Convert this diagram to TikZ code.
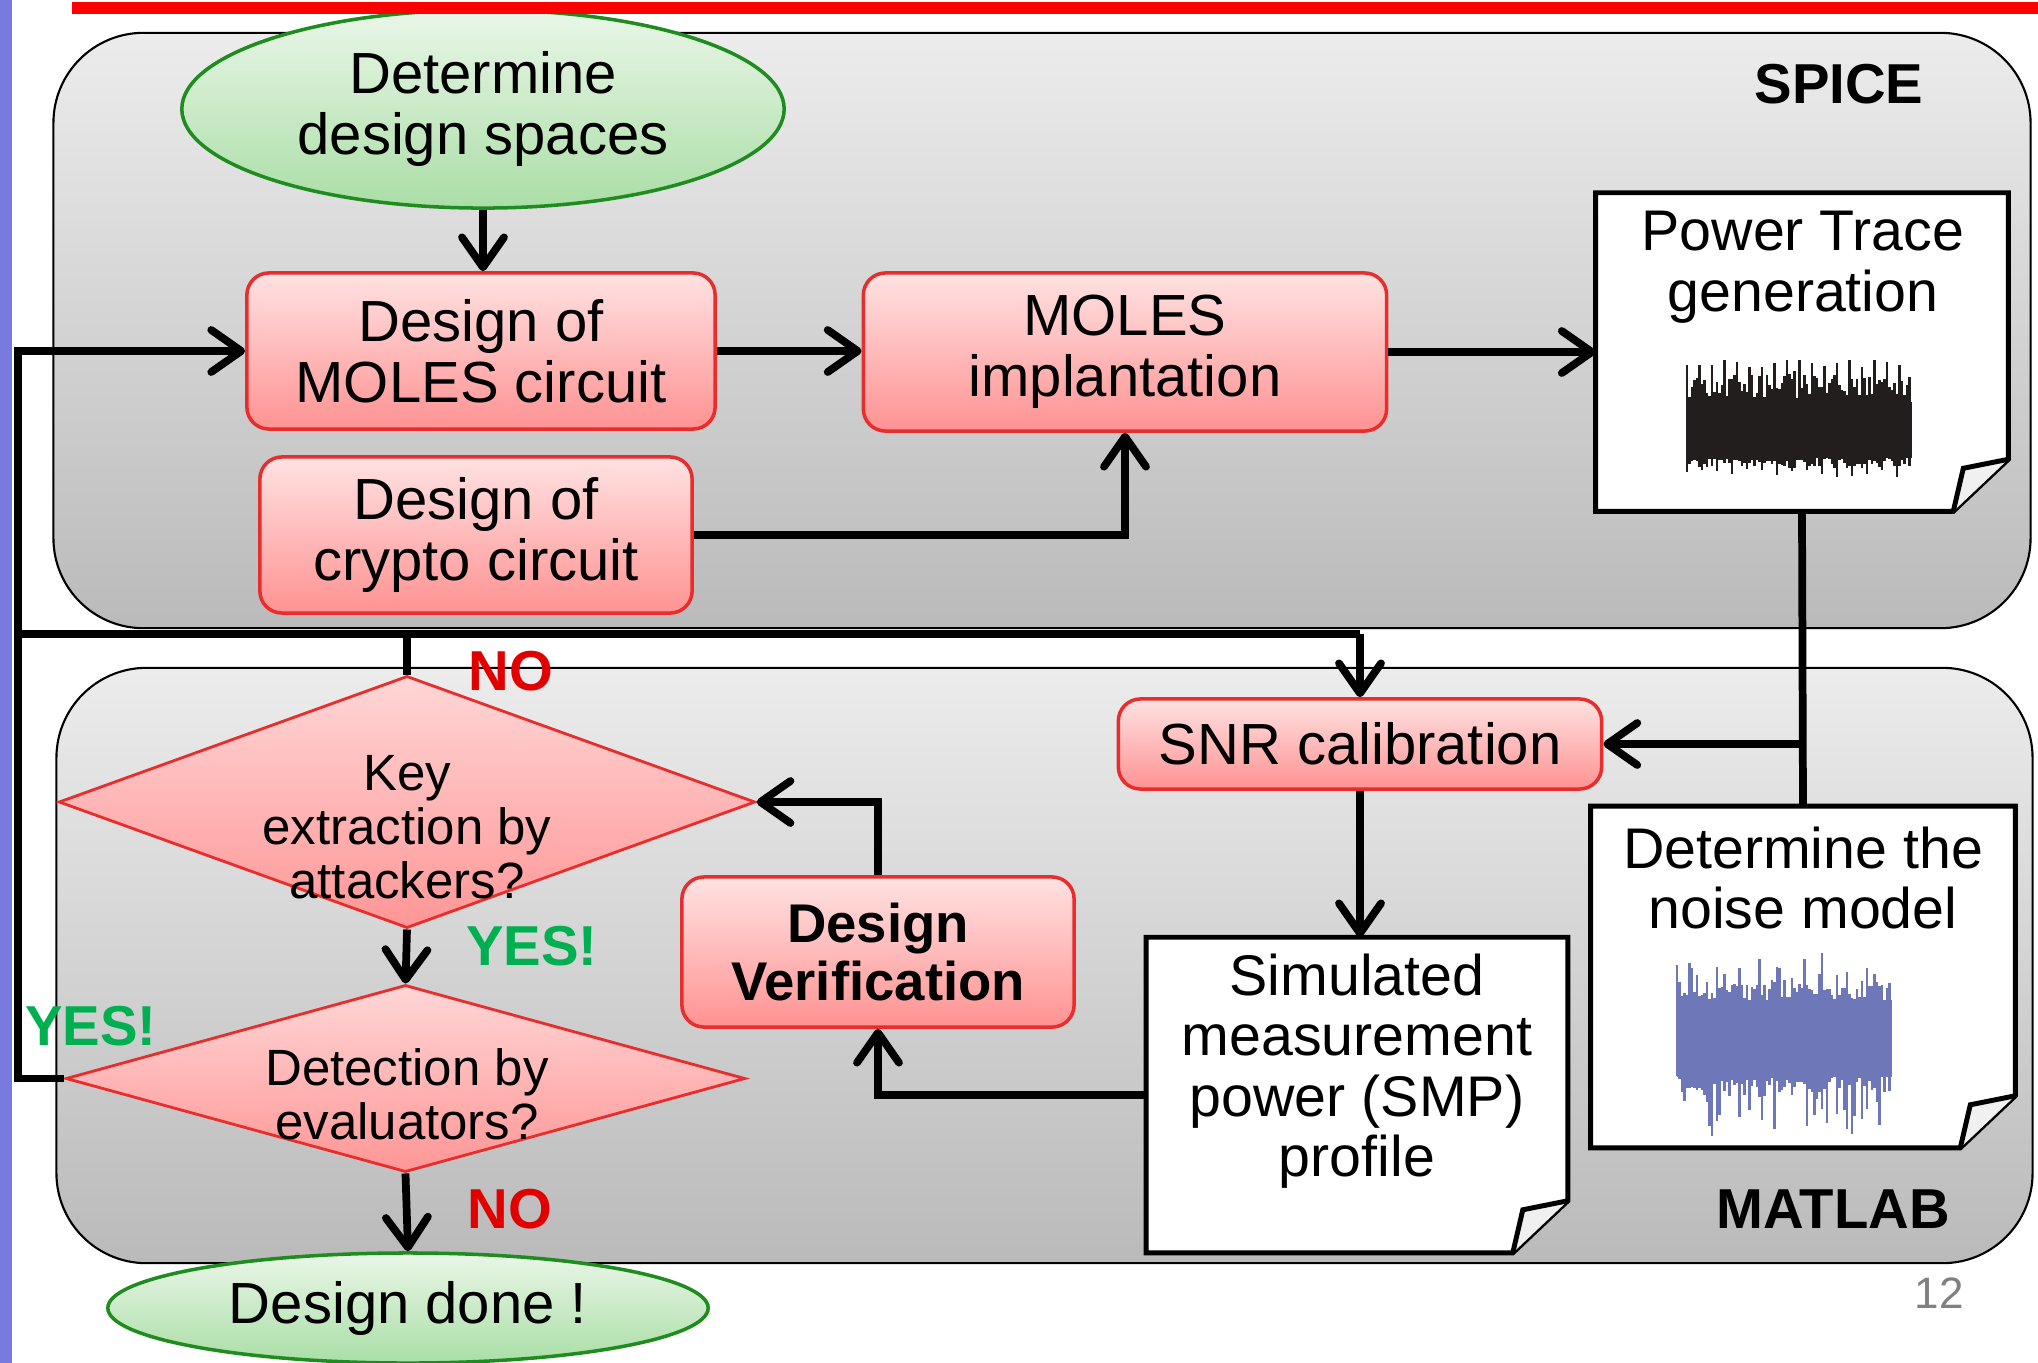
\documentclass[tikz,border=0pt]{standalone}
\usepackage{fontspec}
\setmainfont{Liberation Sans}
\usetikzlibrary{shapes.geometric,arrows.meta,calc}

\definecolor{boxtop}{RGB}{255,226,226}
\definecolor{boxbot}{RGB}{255,146,146}
\definecolor{boxline}{RGB}{232,45,45}
\definecolor{dtop}{RGB}{255,214,214}
\definecolor{dbot}{RGB}{255,150,150}
\definecolor{etop}{RGB}{234,246,232}
\definecolor{ebot}{RGB}{170,222,166}
\definecolor{eline}{RGB}{30,140,30}
\definecolor{ptop}{RGB}{236,236,236}
\definecolor{pbot}{RGB}{186,186,186}
\definecolor{yesgreen}{RGB}{0,176,80}
\definecolor{nored}{RGB}{225,0,0}
\definecolor{sidebar}{RGB}{122,122,222}
\definecolor{noiseblue}{RGB}{110,120,185}
\definecolor{tracedark}{RGB}{35,30,30}

\newcommand\docoutline[1]{%
  \draw[docline, fill=white] (#1.north west) -- (#1.north east)
     -- ([yshift=0.52cm]#1.south east) -- ([xshift=-0.55cm]#1.south east)
     -- (#1.south west) -- cycle;
  \draw[docline, fill=gray!12] ([yshift=0.52cm]#1.south east)
     -- ([xshift=-0.45cm,yshift=0.43cm]#1.south east)
     -- ([xshift=-0.55cm]#1.south east);
}

\begin{document}
\begin{tikzpicture}[x=0.01cm,y=-0.01cm,
  flow/.style={line width=2.2pt, draw=black},
  arr/.style={flow, -{Straight Barb[length=0.3cm,width=0.42cm,round]}},
  panel/.style={rectangle, rounded corners=0.9cm, draw=black, line width=0.6pt,
    top color=ptop, bottom color=pbot},
  pinkbox/.style={rectangle, rounded corners=0.22cm, draw=boxline, line width=1pt,
    top color=boxtop, bottom color=boxbot, align=center, inner sep=0pt,
    font=\fontsize{16.5}{17.4}\selectfont},
  decision/.style={diamond, draw=boxline, line width=0.8pt, top color=dtop,
    bottom color=dbot, inner sep=0pt},
  dtext/.style={align=center, font=\fontsize{14.5}{15.4}\selectfont},
  terminal/.style={ellipse, draw=eline, line width=1pt, top color=etop,
    bottom color=ebot, align=center, inner sep=0pt,
    font=\fontsize{16.5}{17.4}\selectfont},
  docnode/.style={rectangle, draw=none, inner sep=0pt},
  docline/.style={line width=1.4pt, draw=black, line join=miter},
  doctext/.style={align=center, font=\fontsize{16.3}{17.2}\selectfont},
  tag/.style={font=\fontsize{16}{18}\selectfont\bfseries},
  wavepw/.style={line width=0.028cm, draw=tracedark},
  wavenm/.style={line width=0.028cm, draw=noiseblue}
]
\useasboundingbox (0,0) rectangle (2038,1363);
\fill[white] (0,0) rectangle (2038,1363);
\fill[sidebar] (0,0) rectangle (12,1363);

% tool panels
\node[panel, minimum width=19.76cm, minimum height=5.95cm] (spice) at (1042,330.5) {};
\node[panel, minimum width=19.75cm, minimum height=5.95cm] (matlab) at (1044.5,965.5) {};
\node[tag] (spicelbl) at (1839,84) {SPICE};
\node[tag] (matlablbl) at (1833,1209) {MATLAB};

% flow nodes
\node[terminal, minimum width=6.02cm, minimum height=1.98cm] (ds) at (483,109)
  {Determine\\design spaces};
\node[pinkbox, minimum width=4.68cm, minimum height=1.56cm] (mc) at (481,351)
  {Design of\\MOLES circuit};
\node[pinkbox, minimum width=4.32cm, minimum height=1.56cm] (cc) at (476,535)
  {Design of\\crypto circuit};
\node[pinkbox, minimum width=5.23cm, minimum height=1.58cm] (mi) at (1125,352)
  {MOLES\\implantation};
\node[pinkbox, minimum width=4.83cm, minimum height=0.9cm] (snr) at (1360,744)
  {SNR calibration};
\node[pinkbox, minimum width=3.92cm, minimum height=1.5cm,
  font=\fontsize{15.5}{16.3}\selectfont\bfseries] (dv) at (878,952)
  {Design\\Verification};

\node[decision, minimum width=6.96cm, minimum height=2.52cm] (d1) at (407,802) {};
\node[dtext] (d1t) at (407,827) {Key\\extraction by\\attackers?};
\node[decision, minimum width=6.79cm, minimum height=1.87cm] (d2) at (405.5,1078.5) {};
\node[dtext] (d2t) at (407,1094) {Detection by\\evaluators?};
\node[terminal, minimum width=6.0cm, minimum height=1.1cm] (dd) at (408,1308)
  {\raisebox{-0.07cm}{Design done !}};

% document nodes
\node[docnode, minimum width=4.11cm, minimum height=3.17cm] (pt) at (1802,352) {};
\docoutline{pt}
\node[doctext] (ptt) at (1803,267) {Power Trace\\generation};
\node[docnode, minimum width=4.23cm, minimum height=3.4cm] (nm) at (1803,977) {};
\docoutline{nm}
\node[doctext] (nmt) at (1803,878) {Determine the\\noise model};
\node[docnode, minimum width=4.2cm, minimum height=3.14cm] (smp) at (1357,1095) {};
\docoutline{smp}
\node[doctext] (smpt) at (1357,1071) {Simulated\\measurement\\power (SMP)\\profile};

% power trace waveform
\fill[tracedark] (1687,402) rectangle (1912,458);
\pgfmathsetseed{11}
\foreach \i in {0,...,89}{
  \pgfmathsetmacro\xx{1687+2.5*\i}
  \pgfmathsetmacro\tp{(mod(\i,5)==0)*(360+8*rnd)+(mod(\i,5)!=0)*(398-28*rnd)}
  \pgfmathsetmacro\bt{458+10*rnd+(mod(\i,6)==0)*10}
  \draw[wavepw] (\xx,\tp) -- (\xx,\bt);
}
% noise waveform
\fill[noiseblue] (1677,1000) rectangle (1892,1077);
\pgfmathsetseed{5}
\foreach \i in {0,...,85}{
  \pgfmathsetmacro\xx{1677+2.5*\i}
  \pgfmathsetmacro\tp{1002-18*rnd-40*rnd^4}
  \pgfmathsetmacro\bt{1075+18*rnd+50*rnd^5}
  \draw[wavenm] (\xx,\tp) -- (\xx,\bt);
}

% connectors
\coordinate (busL) at (18,634);
\coordinate (busR) at (snr.north |- busL);
\coordinate (tap) at (pt.south |- snr.east);

\draw[arr] (ds.south) -- (ds.south |- mc.north);
\draw[arr] (mc.east) -- (mc.east -| mi.west);
\draw[arr] (mi.east) -- (mi.east -| pt.west);
\draw[arr] (cc.east) -| (mi.south);
\draw[flow] (pt.south) -- (nm.north);
\draw[arr] (tap) -- (snr.east);
\draw[arr] (snr.south) -- (snr.south |- smp.north);
\draw[arr] (smp.west) -| (dv.south);
\draw[arr] (dv.north) |- (d1.east);
\draw[arr] (d1.south) -- (d2.north);
\draw[arr] (d2.south) -- (dd.north);
\draw[flow] (d1.north) -- (d1.north |- busL);
\draw[flow] (busL) -- (busR);
\draw[arr] (busR) -- (snr.north);
\draw[arr] (d2.west) -- (d2.west -| busL) |- (mc.west);

% branch labels
\node[tag, text=nored] (no1) at (511,671) {NO};
\node[tag, text=yesgreen] (yes1) at (532,946) {YES!};
\node[tag, text=yesgreen] (yes2) at (91,1026) {YES!};
\node[tag, text=nored] (no2) at (510,1209) {NO};

\node[font=\fontsize{12.5}{14}\selectfont, text=gray] (pg) at (1939,1293) {12};

% title rule
\fill[red] (72,2) rectangle (2038,14);
\end{tikzpicture}
\end{document}
